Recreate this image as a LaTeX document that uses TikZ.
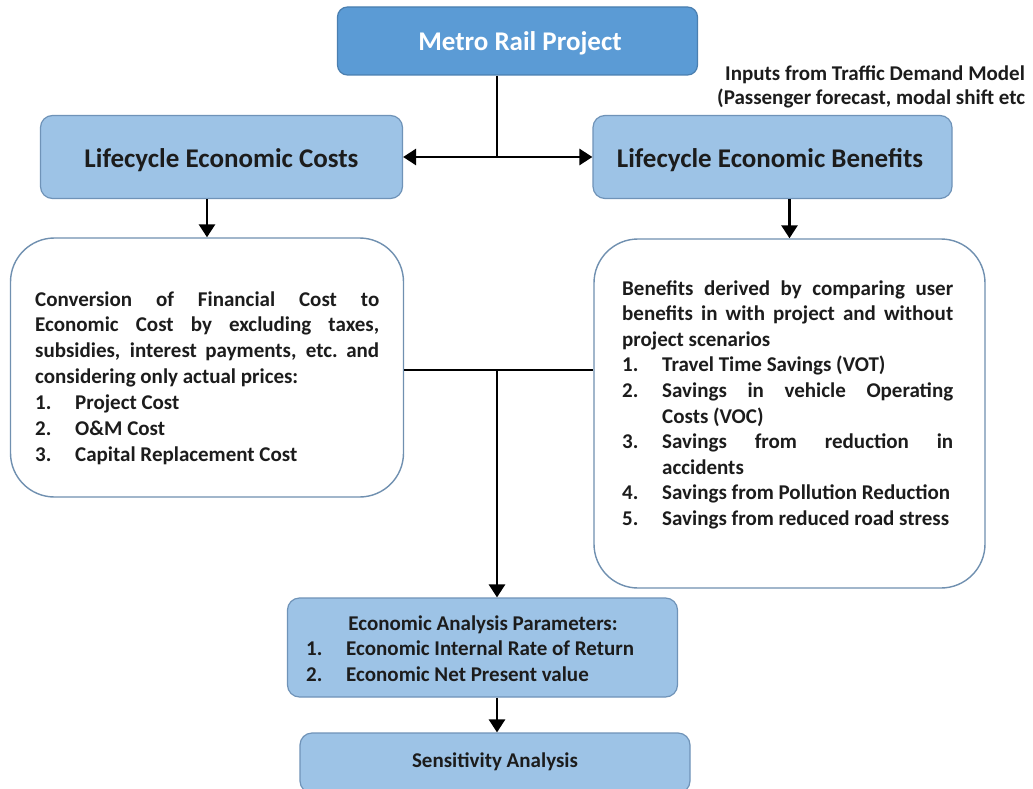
\documentclass[tikz,border=0pt]{standalone}
\usepackage{fontspec}
\setmainfont{Carlito}[BoldFont={Carlito Bold}]
\usetikzlibrary{arrows.meta}
\definecolor{headfill}{HTML}{5B9BD5}
\definecolor{headline}{HTML}{4A7FB0}
\definecolor{lightfill}{HTML}{9DC3E6}
\definecolor{lightline}{HTML}{6F93B8}
\definecolor{paneline}{HTML}{7090B0}
\definecolor{inktext}{HTML}{1C1C1C}

% numbered entry with hanging indent
\newcommand{\numitem}[2]{\par\hangindent=40pt\hangafter=1\noindent\makebox[40pt][l]{#1}#2\par}

\tikzset{
  headbox/.style={draw=headline, fill=headfill, line width=1.2pt, rounded corners=10pt, inner sep=0pt},
  lightbox/.style={draw=lightline, fill=lightfill, line width=1.2pt, rounded corners=12pt, inner sep=0pt},
  panebox/.style={draw=paneline, fill=white, line width=1.4pt, rounded corners=44pt, inner sep=0pt},
  label/.style={inner sep=0pt, text=inktext, font=\bfseries},
  bigtext/.style={label, font=\bfseries\fontsize{27}{32}\selectfont},
  smalltext/.style={label, font=\bfseries\fontsize{21}{25.9}\selectfont},
  link/.style={line width=2.8pt, black},
  linkarrow/.style={link, -{Triangle[width=16pt,length=13pt]}}
}

\begin{document}
\begin{tikzpicture}[x=1pt,y=-1pt]
\clip (0,0) rectangle (1033,789);
\fill[white] (0,0) rectangle (1033,789);

% boxes
\node[headbox, minimum width=360pt, minimum height=68pt] (metro) at (517.5,41) {};
\node[lightbox, minimum width=362pt, minimum height=83pt] (costs) at (221.5,157) {};
\node[lightbox, minimum width=359pt, minimum height=83pt] (benefits) at (772.5,157) {};
\node[panebox, minimum width=393pt, minimum height=259pt] (costpane) at (207,367.5) {};
\node[panebox, minimum width=391pt, minimum height=349pt] (benefitpane) at (789.5,413.5) {};
\node[lightbox, minimum width=390pt, minimum height=99pt] (econ) at (482.5,647.5) {};
\node[lightbox, minimum width=390pt, minimum height=60pt] (sens) at (495,763) {};

% titles
\node[bigtext, text=white, anchor=base] (metrotext) at (520,51) {Metro Rail Project};
\node[bigtext, anchor=base] (coststext) at (221.5,167) {Lifecycle Economic Costs};
\node[bigtext, anchor=base] (benefitstext) at (770,167) {Lifecycle Economic Benefits};

\node[smalltext, anchor=base west] (inputs1) at (725,81) {Inputs from Traffic Demand Model};
\node[smalltext, anchor=base west] (inputs2) at (717,105) {(Passenger forecast, modal shift etc};

% pane texts
\node[smalltext, anchor=base west] (costbody) at (35,306)
{\parbox[t]{344pt}{\parindent=0pt\tolerance=10000\hbadness=10000
Conversion of Financial Cost to\linebreak
Economic Cost by excluding taxes,\linebreak
subsidies, interest payments, etc.\ and\linebreak
considering only actual prices:
\numitem{1.}{Project Cost}
\numitem{2.}{O\&M Cost}
\numitem{3.}{Capital Replacement Cost}}};

\node[smalltext, anchor=base west, font=\bfseries\fontsize{21}{25.6}\selectfont] (benefitbody) at (622,295)
{\parbox[t]{331pt}{\parindent=0pt\tolerance=10000\hbadness=10000
Benefits derived by comparing user\linebreak
benefits in with project and without\linebreak
project scenarios
\numitem{1.}{Travel Time Savings (VOT)}
\numitem{2.}{Savings in vehicle Operating\linebreak Costs (VOC)}
\numitem{3.}{Savings from reduction in\linebreak accidents}
\numitem{4.}{Savings from Pollution Reduction}
\numitem{5.}{Savings from reduced road stress}}};

\node[smalltext, anchor=base] (econtitle) at (483,630) {Economic Analysis Parameters:};
\node[smalltext, anchor=base west, font=\bfseries\fontsize{21}{25.5}\selectfont] (econbody) at (306,655.5)
{\parbox[t]{360pt}{\parindent=0pt
\numitem{1.}{Economic Internal Rate of Return}
\numitem{2.}{Economic Net Present value}}};

\node[smalltext, anchor=base] (senstext) at (495,767) {Sensitivity Analysis};

% connectors
\coordinate (hub) at (497,157);
\coordinate (join) at (497,370);
\draw[link] (metro.south -| hub) -- (hub);
\draw[linkarrow] (hub) -- (costs.east);
\draw[linkarrow] (hub) -- (benefits.west);
\draw[linkarrow] (costs.south -| costpane.north) -- (costpane.north);
\draw[linkarrow] (benefits.south -| benefitpane.north) -- (benefitpane.north);
\draw[link] (costpane.east |- join) -- (benefitpane.west |- join);
\draw[linkarrow] (join) -- (econ.north -| join);
\draw[linkarrow] (econ.south -| join) -- (sens.north -| join);
\end{tikzpicture}
\end{document}
